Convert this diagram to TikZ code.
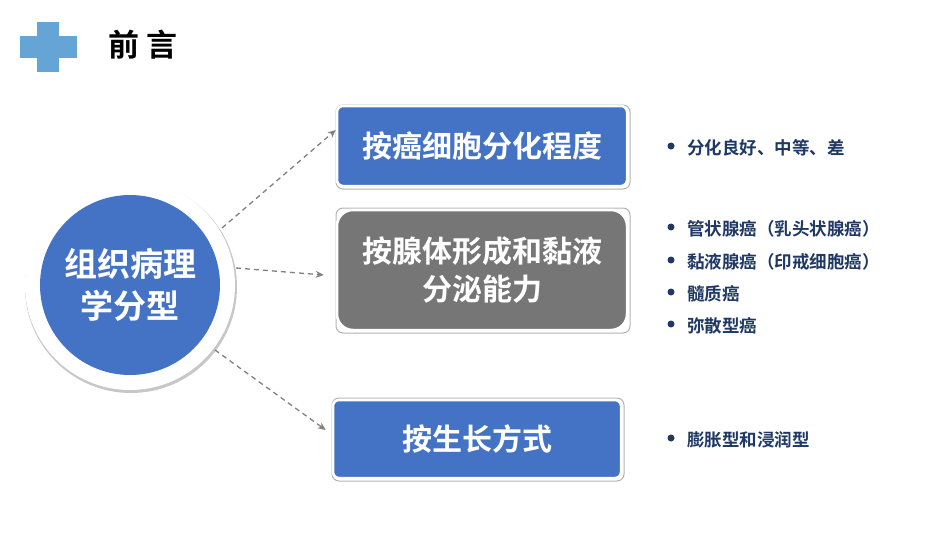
\documentclass[tikz,border=0pt]{standalone}
\usepackage{fontspec}
\setmainfont{Noto Sans CJK SC}[BoldFont={* Bold}]
\usetikzlibrary{positioning,arrows.meta}
\definecolor{boxBlue}{HTML}{4472C4}
\definecolor{boxGray}{HTML}{767676}
\definecolor{plusBlue}{HTML}{3F8FCB}
\definecolor{itemNavy}{HTML}{1F3864}
\tikzset{
  catBox/.style={draw=white,line width=2.5pt,rounded corners=6pt,text=white,font=\fontsize{30}{38}\selectfont\bfseries,align=center,inner sep=0pt},
  boxShade/.style={draw=black!30,line width=1pt,rounded corners=7pt},
  link/.style={draw=gray,line width=1.3pt,dash pattern=on 5pt off 4pt,-{Stealth[length=8pt,width=7pt]}},
  item/.style={text=itemNavy,font=\fontsize{17.5}{21}\selectfont\bfseries,anchor=west,inner sep=0pt}
}
\begin{document}
\begin{tikzpicture}[x=1pt,y=-1pt]
  \useasboundingbox (0,0) rectangle (950,535);
  % header
  \fill[plusBlue!80] (37,22) rectangle (59,72);
  \fill[plusBlue!80] (20,36) rectangle (77,58);
  \node[font=\fontsize{31}{34}\selectfont\bfseries,anchor=west] (title) at (105,45) {前 言};
  % central circle
  \fill[black!22] (131,287) circle (106);
  \fill[white] (130,285) circle (105);
  \node[circle,fill=boxBlue,minimum size=180pt,text=white,align=center,
        font=\fontsize{33}{42}\selectfont\bfseries] (type) at (130,285) {组织病理\\学分型};
  % category boxes
  \draw[boxShade] (336,105) rectangle (630,189);
  \node[catBox,fill=boxBlue,minimum width=290pt,minimum height=80pt] (grade) at (482,146) {按癌细胞分化程度};
  \draw[boxShade] (336,208) rectangle (630,333);
  \node[catBox,fill=boxGray,rounded corners=16pt,minimum width=290pt,minimum height=120pt] (gland) at (482,270) {按腺体形成和黏液\\分泌能力};
  \draw[boxShade] (332,398) rectangle (624,481);
  \node[catBox,fill=boxBlue,minimum width=288pt,minimum height=78pt] (growth) at (477,439) {按生长方式};
  % connectors
  \coordinate (s1) at (222,228);
  \coordinate (s2) at (236,268);
  \coordinate (s3) at (215,350);
  \draw[link] (s1) -- (grade.west|-0,130);
  \draw[link] (s2) -- ([xshift=-12pt]gland.west|-0,275);
  \draw[link] (s3) -- ([xshift=-6pt]growth.west|-0,430);
  % items
  \foreach \y/\txt in {148/分化良好、中等、差,229/管状腺癌（乳头状腺癌）,262/黏液腺癌（印戒细胞癌）,294/髓质癌,326/弥散型癌,440/膨胀型和浸润型}{
    \fill[itemNavy] (671,\y-2) circle (3.5);
    \node[item] at (687,\y) {\txt};
  }
\end{tikzpicture}
\end{document}
